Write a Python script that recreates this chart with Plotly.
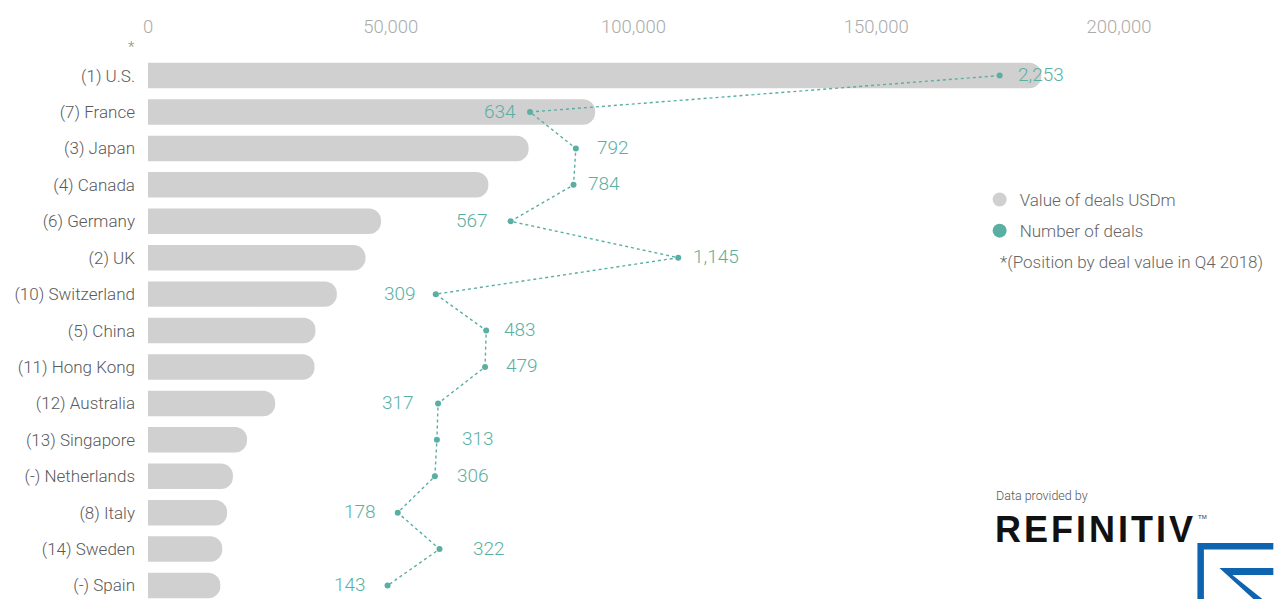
import plotly.graph_objects as go

# ---------------- data ----------------
countries = ["(1) U.S.", "(7) France", "(3) Japan", "(4) Canada", "(6) Germany", "(2) UK",
             "(10) Switzerland", "(5) China", "(11) Hong Kong", "(12) Australia",
             "(13) Singapore", "(-) Netherlands", "(8) Italy", "(14) Sweden", "(-) Spain"]
deal_value_usdm = [184000, 92100, 78400, 70100, 48000, 44800, 38900, 34500, 34300,
                   26200, 20400, 17500, 16300, 15300, 14900]
deal_count = [2253, 634, 792, 784, 567, 1145, 309, 483, 479, 317, 313, 306, 178, 322, 143]
x_ticks = [0, 50000, 100000, 150000, 200000]
x_tick_labels = ["0", "50,000", "100,000", "150,000", "200,000"]

# label placement (style): side of the dot and pixel gap
label_side = ["right", "left", "right", "right", "left", "right", "left", "right", "right",
              "left", "right", "right", "left", "right", "left"]
label_gap = [16, 12, 19, 12, 21, 13, 18, 16, 19, 22, 23, 20, 20, 31, 20]

# ---------------- layout geometry ----------------
W, H = 1274, 599
ML, MT = 147.5, 57
PR = 1119.5
PW = PR - ML
PH = H - MT

def X(px):
    return (px - ML) / PW

def Y(py):
    return 1 - (py - MT) / PH

FONT = "Roboto"
GREY_BAR = "#d0d0d0"
TEAL = "#5aafa3"
LABEL_GREY = "#5a5a5a"
TICK_GREY = "#ababab"

fig = go.Figure()

fig.add_trace(go.Bar(
    y=countries, x=deal_value_usdm, orientation="h",
    marker=dict(color=GREY_BAR, line=dict(width=0)),
    width=0.7, showlegend=False, hoverinfo="x+y", xaxis="x", yaxis="y",
))

fig.add_trace(go.Scatter(
    y=countries, x=deal_count, mode="lines+markers",
    line=dict(color=TEAL, width=1.4, dash="dot"),
    marker=dict(color=TEAL, size=6),
    showlegend=False, xaxis="x2", yaxis="y",
))

# legend entries (circle symbols)
fig.add_trace(go.Scatter(x=[None], y=[None], mode="markers", name="Value of deals USDm",
                         marker=dict(color=GREY_BAR, size=14), legendgroup="a"))
fig.add_trace(go.Scatter(x=[None], y=[None], mode="markers", name="Number of deals",
                         marker=dict(color=TEAL, size=14), legendgroup="b"))

annotations = []
for c, n, side, gap in zip(countries, deal_count, label_side, label_gap):
    annotations.append(dict(
        x=n, y=c, xref="x2", yref="y", text=f"{n:,}", showarrow=False,
        xanchor="left" if side == "right" else "right", yanchor="middle",
        xshift=gap if side == "right" else -gap, yshift=1,
        font=dict(family=FONT, size=19, color=TEAL, weight=300),
    ))

annotations += [
    dict(x=X(131), y=Y(47), xref="paper", yref="paper", text="*", showarrow=False,
         xanchor="center", yanchor="middle",
         font=dict(family=FONT, size=15, color="#8a8a8a", weight=300)),
    dict(x=X(998), y=Y(262), xref="paper", yref="paper", xanchor="left", yanchor="middle",
         text="*(Position by deal value in Q4 2018)", showarrow=False,
         font=dict(family=FONT, size=17, color="#666666", weight=300)),
    dict(x=X(994), y=Y(495), xref="paper", yref="paper", xanchor="left", yanchor="middle",
         text="Data provided by", showarrow=False,
         font=dict(family=FONT, size=12.5, color="#555555")),
    dict(x=X(993), y=Y(529), xref="paper", yref="paper", xanchor="left", yanchor="middle",
         text="R\u200aE\u200aF\u200aI\u200aN\u200aI\u200aT\u200aI\u200aV", showarrow=False,
         font=dict(family="Liberation Sans", size=36, color="#111111", weight="bold")),
    dict(x=X(1197), y=Y(517), xref="paper", yref="paper", xanchor="left", yanchor="middle",
         text="TM", showarrow=False,
         font=dict(family="Liberation Sans", size=6, color="#333333")),
]

BLUE = "#0f64b0"
def path(pts):
    return "M " + " L ".join(f"{X(a):.5f},{Y(b):.5f}" for a, b in pts) + " Z"

shapes = [
    dict(type="path", xref="paper", yref="paper", line=dict(width=0), fillcolor=BLUE,
         path=path([(1198, 543), (1274, 543), (1274, 549.5), (1204.5, 549.5),
                    (1204.5, 599), (1198, 599)])),
    dict(type="path", xref="paper", yref="paper", line=dict(width=0), fillcolor=BLUE,
         path=path([(1220, 568), (1274, 568), (1274, 575), (1233, 575),
                    (1263, 599), (1254, 599)])),
]

fig.update_layout(
    width=W, height=H,
    margin=dict(l=ML, r=W - PR, t=MT, b=0, pad=0),
    paper_bgcolor="white", plot_bgcolor="white",
    barcornerradius=13,
    font=dict(family=FONT, color=LABEL_GREY, weight=300),
    xaxis=dict(side="top", range=[0, 200000], tickvals=x_ticks, ticktext=x_tick_labels,
               showgrid=False, zeroline=False, showline=False, ticks="",
               ticklabelstandoff=19,
               tickfont=dict(family=FONT, size=18.5, color=TICK_GREY, weight=300)),
    xaxis2=dict(overlaying="x", side="top", range=[-682.9, 2664.4], visible=False),
    yaxis=dict(categoryorder="array", categoryarray=countries, range=[14.37, -0.51],
               showgrid=False, zeroline=False, showline=False, ticks="",
               ticklabelstandoff=12,
               tickfont=dict(family=FONT, size=17, color=LABEL_GREY, weight=300)),
    legend=dict(x=X(980), y=Y(182), xanchor="left", yanchor="top",
                bgcolor="rgba(0,0,0,0)", tracegroupgap=6,
                font=dict(family=FONT, size=17, color="#666666", weight=300)),
    annotations=annotations, shapes=shapes,
    showlegend=True,
)

fig.write_html("out.html", config={"displayModeBar": False},
               post_script="document.body.style.margin='0px';")
